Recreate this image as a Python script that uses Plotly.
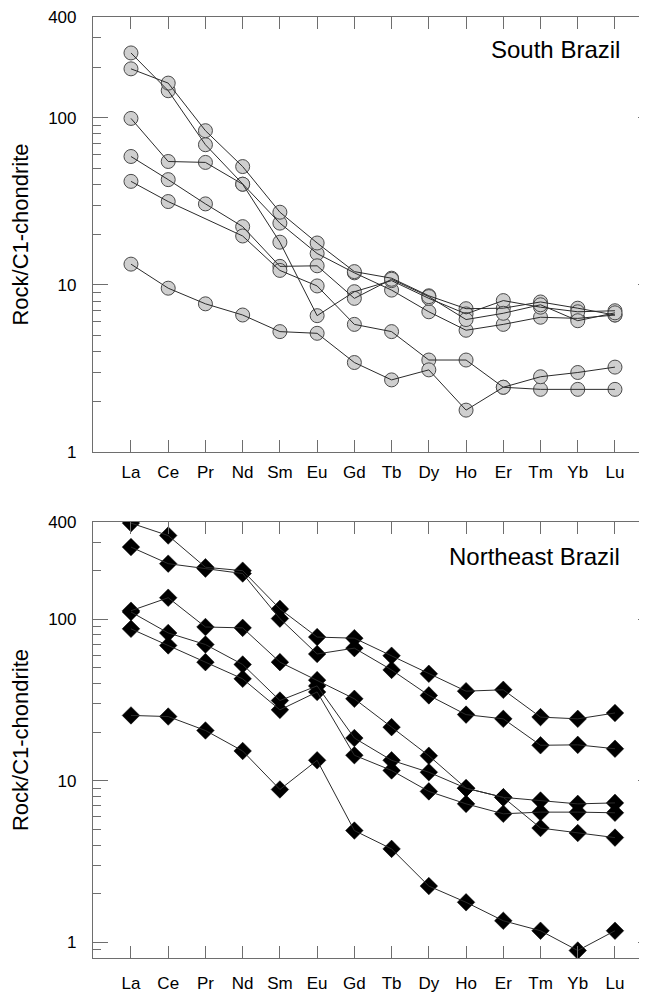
import math
import plotly.graph_objects as go

elements = ["La", "Ce", "Pr", "Nd", "Sm", "Eu", "Gd", "Tb", "Dy", "Ho", "Er", "Tm", "Yb", "Lu"]

# South Brazil (Rock / C1-chondrite)
south_a = [244, 145, 68.9, 40, 23.4, 15.4, 11.8, 9.3, 6.9, 5.35, 5.8, 6.4, 6.3, 6.6]
south_b = [196, 161, 83.6, 51, 27.2, 17.8, 12.0, 10.96, 8.6, 7.2, 7.25, 7.9, 7.25, 6.6]
south_c = [99, 54.7, 54, 40, 18.0, 6.54, 9.1, 10.6, 8.3, 6.7, 8.05, 7.35, 6.9, 7.0]
south_d = [58.6, 42.6, 30.5, 22.3, 12.9, 13.0, 8.3, 10.8, 8.5, 6.2, 6.76, 7.6, 6.1, 6.8]
south_e = [41.6, 31.5, None, 19.6, 12.2, 9.85, 5.8, 5.25, 3.55, 3.55, 2.44, 2.37, 2.37, 2.37]
south_f = [13.3, 9.55, 7.7, 6.6, 5.25, 5.13, 3.43, 2.7, 3.1, 1.78, 2.44, 2.82, 2.99, 3.22]

# Northeast Brazil (Rock / C1-chondrite)
ne_1 = [394, 330, 210, 200, 116, 77.6, 76.4, 59.5, 46, 35.9, 36.6, 24.8, 24.2, 26.3]
ne_2 = [280, 221, 206, 192, 101, 61, 66.3, 48.6, 33.8, 25.7, 24.2, 16.6, 16.7, 15.8]
ne_3 = [113, 136, 89.6, 88.5, 54.3, 42, 32.2, 21.5, 14.3, 9.0, 7.9, 5.1, 4.75, 4.45]
ne_4 = [111, 82.3, 69.8, 52.5, 31.4, 38.7, 18.4, 13.4, 11.3, 9.0, 7.9, 7.55, 7.2, 7.3]
ne_5 = [87.3, 68.9, 54.3, 42.8, 27.5, 35.5, 14.4, 11.6, 8.6, 7.2, 6.25, 6.4, 6.4, 6.34]
ne_6 = [25.4, 25.0, 20.5, 15.3, 8.84, 13.4, 4.92, 3.79, 2.23, 1.77, 1.36, 1.18, 0.89, 1.18]

south_series = [south_a, south_b, south_c, south_d, south_e, south_f]
ne_series = [ne_1, ne_2, ne_3, ne_4, ne_5, ne_6]

top_major = [1, 10, 100, 400]
top_minor = [2, 3, 4, 5, 6, 7, 8, 9, 20, 30, 40, 50, 60, 70, 80, 90, 200, 300]
bot_major = [1, 10, 100, 400]
bot_minor = [0.9] + top_minor

FONT = "Liberation Sans, Arial, sans-serif"
AX = "#6e6e6e"
LINE = "#2b2b2b"

fig = go.Figure()

# markers first, lines on top (as in the reference)
for s in south_series:
    fig.add_trace(go.Scatter(x=elements, y=s, mode="markers", xaxis="x", yaxis="y",
                             marker=dict(symbol="circle", size=14, color="#cfcfcf",
                                         line=dict(color="#4a4a4a", width=1)),
                             hoverinfo="skip"))
for s in south_series:
    fig.add_trace(go.Scatter(x=elements, y=s, mode="lines", xaxis="x", yaxis="y",
                             connectgaps=True, line=dict(color=LINE, width=1)))
for s in ne_series:
    fig.add_trace(go.Scatter(x=elements, y=s, mode="markers", xaxis="x2", yaxis="y2",
                             marker=dict(symbol="diamond", size=13.5, color="black",
                                         line=dict(color="black", width=0.5)),
                             hoverinfo="skip"))
for s in ne_series:
    fig.add_trace(go.Scatter(x=elements, y=s, mode="lines", xaxis="x2", yaxis="y2",
                             connectgaps=True, line=dict(color=LINE, width=1)))

top_range = [0, math.log10(400.3)]
bot_range = [math.log10(0.8), math.log10(400.3)]
xr = [-1.02, 13.86]

def xaxis(anchor, standoff):
    return dict(type="category", range=xr, anchor=anchor, domain=[0, 1],
                showline=True, linecolor=AX, linewidth=1.2, mirror="ticks",
                ticks="inside", ticklen=12, tickcolor=AX, tickwidth=1,
                showgrid=False, zeroline=False, ticklabelstandoff=standoff,
                tickfont=dict(family=FONT, size=17, color="black"))

def yaxis(domain, rng, major, minor):
    return dict(type="log", range=rng, domain=domain,
                showline=True, linecolor=AX, linewidth=1.2, mirror=False,
                ticks="inside", ticklen=15, tickcolor=AX, tickwidth=1,
                tickmode="array", tickvals=major, ticktext=[str(v) for v in major],
                minor=dict(tickmode="array", tickvals=minor, ticks="inside",
                           ticklen=8, tickcolor=AX, tickwidth=1, showgrid=False),
                showgrid=False, zeroline=False, ticklabelstandoff=12,
                tickfont=dict(family=FONT, size=17, color="black"),
                title=dict(text="Rock/C1-chondrite", standoff=23,
                           font=dict(family=FONT, size=22, color="black")))

def yright(over, rng, major, minor):
    return dict(type="log", range=rng, overlaying=over, side="right", anchor="free",
                position=1, showline=False, showticklabels=False,
                ticks="inside", ticklen=9, tickcolor=AX, tickwidth=1,
                tickmode="array", tickvals=major,
                minor=dict(tickmode="array", tickvals=minor, ticks="inside",
                           ticklen=3, tickcolor=AX, tickwidth=1, showgrid=False),
                showgrid=False, zeroline=False)

# page body has an 8px margin, so the figure is 8px smaller than the window
W, H, T, B, L = 639, 986, 9, 36, 85
ph = H - T - B
top_dom = [(H - B - 444) / ph, 1]
bot_dom = [0, (H - B - 514) / ph]
pw = W - L

fig.update_layout(
    width=W, height=H,
    margin=dict(l=L, r=0, t=T, b=B),
    plot_bgcolor="white", paper_bgcolor="white", showlegend=False,
    xaxis=xaxis("y", 4), xaxis2=xaxis("y2", 9),
    yaxis=dict(yaxis(top_dom, top_range, top_major, top_minor), anchor="x"),
    yaxis2=dict(yaxis(bot_dom, bot_range, bot_major, bot_minor), anchor="x2"),
    yaxis3=dict(yright("y", top_range, top_major, top_minor), domain=top_dom),
    yaxis4=dict(yright("y2", bot_range, bot_major, bot_minor), domain=bot_dom),
    annotations=[
        dict(text="South Brazil", xref="paper", yref="paper",
             x=(614 - L) / pw, y=(H - B - 42) / ph, xanchor="right", yanchor="middle",
             showarrow=False, font=dict(family=FONT, size=24, color="black")),
        dict(text="Northeast Brazil", xref="paper", yref="paper",
             x=(614 - L) / pw, y=(H - B - 548) / ph, xanchor="right", yanchor="middle",
             showarrow=False, font=dict(family=FONT, size=24, color="black")),
    ],
)

# empty traces so the right-side tick axes render
fig.add_trace(go.Scatter(x=[None], y=[None], xaxis="x", yaxis="y3", showlegend=False))
fig.add_trace(go.Scatter(x=[None], y=[None], xaxis="x2", yaxis="y4", showlegend=False))

fig.write_html("out.html")
